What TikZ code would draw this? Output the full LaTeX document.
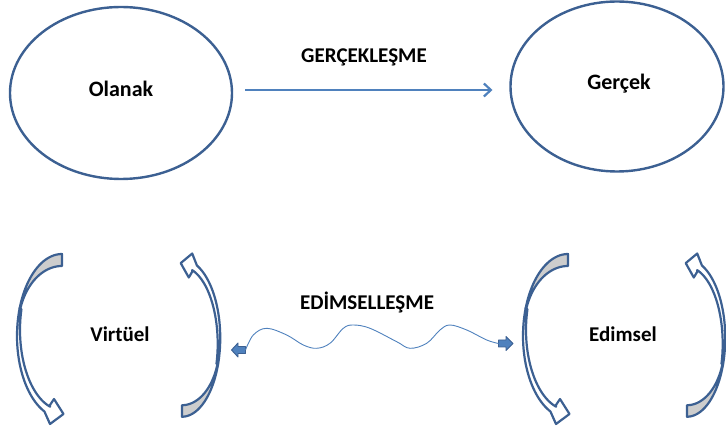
\documentclass[tikz,border=0pt]{standalone}
\usepackage{fontspec}
\setmainfont{Carlito}
\usetikzlibrary{shapes.geometric,arrows.meta,calc}
\definecolor{edge}{RGB}{60,96,146}
\definecolor{arrowblue}{RGB}{79,129,189}
\definecolor{backgray}{RGB}{205,205,205}
\tikzset{
  ell/.style={draw=edge, line width=2.4pt, ellipse, inner sep=0pt, outer sep=0pt},
  lbl/.style={font=\bfseries\fontsize{21}{25}\selectfont, anchor=base, inner sep=0pt},
  biglbl/.style={font=\bfseries\fontsize{22}{26}\selectfont, anchor=base, inner sep=0pt},
  bracketline/.style={draw=edge, line width=2.2pt, line join=round},
  toparrow/.style={draw=arrowblue, line width=2.8pt, -{Straight Barb[length=7pt,width=13pt,line width=2.2pt]}},
  wave/.style={draw=arrowblue, line width=0.9pt},
  blockarrow/.style={draw=edge, fill=arrowblue, line width=0.9pt, line join=round},
  curvarrow/.pic={
    \filldraw[bracketline, fill=backgray]
      plot[domain=0:70, samples=30, variable=\t] ({45*cos(270-\t)},{82*sin(270-\t)})
      -- plot[domain=197.3:270, samples=30, variable=\t] ({44*cos(\t)},{-7.3+62.7*sin(\t)})
      -- cycle;
    \filldraw[bracketline, fill=white]
      plot[domain=0:87, samples=40, variable=\t] ({45*cos(200-\t)},{82*sin(200-\t)})
      -- (-12,88) -- (1.5,78) -- (-8,63) -- (-12,69)
      -- plot[domain=106.6:195, samples=40, variable=\t] ({42*cos(\t)},{-6+80*sin(\t)})
      -- cycle;
  }
}
\begin{document}
\begin{tikzpicture}[x=1pt, y=-1pt]
  \useasboundingbox (0,0) rectangle (726,430);
  % top row
  \node[ell, minimum width=222pt, minimum height=172pt] (ol) at (121,93) {};
  \node[ell, minimum width=213pt, minimum height=170pt] (ge) at (617,86.5) {};
  \node[biglbl] (olt) at (121,96.5) {Olanak};
  \node[biglbl] (get) at (619,89.5) {Gerçek};
  \node[lbl] (gl) at (364,62.5) {GERÇEKLEŞME};
  \draw[toparrow] ($(ol.east)+(13,-3)$) -- ($(ge.west)+(-18,3.5)$);
  % bottom row
  \node[lbl] (vt) at (120,342) {Virtüel};
  \node[lbl] (et) at (623,342) {Edimsel};
  \node[lbl] (el) at (367,310) {EDİMSELLEŞME};
  \pic (vleft) at (62,336) {curvarrow};
  \pic[rotate=180, xscale=0.85, yscale=0.96] (vright) at (182,338) {curvarrow};
  \pic (eleft) at (568,336) {curvarrow};
  \pic[rotate=180, xscale=0.85, yscale=0.96] (eright) at (687,338) {curvarrow};
  % block arrow heads at the ends of the wave
  \coordinate (la) at (245.5,350);
  \coordinate (ra) at (498.5,343.5);
  \filldraw[blockarrow] (la) ++(0,-3.5) -- ++(-7.5,0) -- ++(0,-3.5) -- ++(-6.5,7) -- ++(6.5,7) -- ++(0,-3.5) -- ++(7.5,0) -- cycle;
  \filldraw[blockarrow] (ra) ++(0,-3.5) -- ++(7.5,0) -- ++(0,-3.5) -- ++(7,7) -- ++(-7,7) -- ++(0,-3.5) -- ++(-7.5,0) -- cycle;
  \draw[wave] plot[smooth, tension=0.6] coordinates {(la) (253.3,335) (266.7,328.3) (286.7,335) (303.3,345) (316.7,348.3) (330,343.3) (343.3,328.3) (353.3,325) (370,328.3) (396.7,341.7) (410,348.3) (426.7,343.3) (440,330) (450,325) (466.7,330) (486.7,340) (ra)};
\end{tikzpicture}
\end{document}
